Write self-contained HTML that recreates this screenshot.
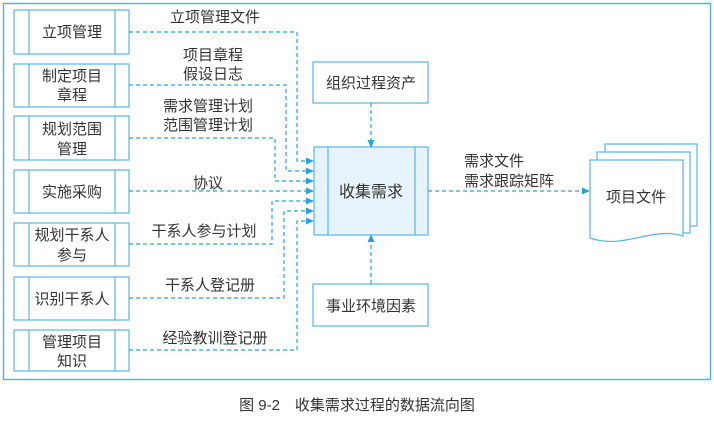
<!DOCTYPE html>
<html><head><meta charset="utf-8"><style>
html,body{margin:0;padding:0;background:#fff;}
svg text{font-family:"Liberation Sans","Noto Sans CJK SC",sans-serif;fill:#333;}
</style></head><body>
<svg width="714" height="422" viewBox="0 0 714 422" xmlns="http://www.w3.org/2000/svg">
<defs>
<marker id="ah" markerWidth="8" markerHeight="8" refX="7" refY="4" orient="auto" markerUnits="userSpaceOnUse">
<path d="M0,0.5 L8,4 L0,7.5 Z" fill="#2aa3d8"/></marker>
</defs>
<rect x="3.5" y="3.5" width="707" height="376" fill="none" stroke="#5ab6e0" stroke-width="1.5"/>
<g stroke="#5ab6e0" stroke-width="1.2" fill="none">
<rect x="14" y="10" width="115" height="44"/><line x1="29" y1="10" x2="29" y2="54"/><line x1="115" y1="10" x2="115" y2="54"/>
<rect x="14" y="64" width="115" height="43"/><line x1="29" y1="64" x2="29" y2="107"/><line x1="115" y1="64" x2="115" y2="107"/>
<rect x="14" y="116" width="115" height="44"/><line x1="29" y1="116" x2="29" y2="160"/><line x1="115" y1="116" x2="115" y2="160"/>
<rect x="14" y="170" width="115" height="43"/><line x1="29" y1="170" x2="29" y2="213"/><line x1="115" y1="170" x2="115" y2="213"/>
<rect x="14" y="223" width="115" height="43"/><line x1="29" y1="223" x2="29" y2="266"/><line x1="115" y1="223" x2="115" y2="266"/>
<rect x="14" y="277" width="115" height="43"/><line x1="29" y1="277" x2="29" y2="320"/><line x1="115" y1="277" x2="115" y2="320"/>
<rect x="14" y="330" width="115" height="41"/><line x1="29" y1="330" x2="29" y2="371"/><line x1="115" y1="330" x2="115" y2="371"/>
<rect x="313" y="62" width="115" height="41"/>
<rect x="313" y="284" width="115" height="42"/>
<rect x="314" y="147" width="114" height="88" fill="#e6f3fa"/><line x1="328" y1="147" x2="328" y2="235"/><line x1="415" y1="147" x2="415" y2="235"/>
<path d="M605,144 H697 V226 H683 V144 Z" fill="#fff" stroke="none"/>
<path d="M605,152 V144 H697 V226 H690"/>
<path d="M597,160 V152 H690 V233 H683"/>
<path d="M590,160 H683 V236 C650,226 625,250 590,238 Z" fill="#fff"/>
</g>
<g stroke="#2aa3d8" stroke-width="1.2" fill="none" stroke-dasharray="4,3" marker-end="url(#ah)">
<path d="M129,32 H297 V161 H313"/>
<path d="M129,85 H286 V171 H313"/>
<path d="M129,138 H275 V181 H313"/>
<path d="M129,191 H313"/>
<path d="M129,244 H272 V201 H313"/>
<path d="M129,298 H284 V211 H313"/>
<path d="M129,350 H297 V221 H313"/>
<path d="M371,103 V147"/>
<path d="M371,284 V235"/>
<path d="M428,191 H589"/>
</g>
<g font-size="15" text-anchor="middle">
<text x="72" y="37">立项管理</text>
<text x="72" y="81">制定项目</text><text x="72" y="100">章程</text>
<text x="72" y="134">规划范围</text><text x="72" y="154">管理</text>
<text x="72" y="197">实施采购</text>
<text x="72" y="240">规划干系人</text><text x="72" y="260">参与</text>
<text x="72" y="304">识别干系人</text>
<text x="72" y="347">管理项目</text><text x="72" y="366">知识</text>
<text x="215" y="22">立项管理文件</text>
<text x="213" y="60">项目章程</text><text x="213" y="79">假设日志</text>
<text x="208" y="111">需求管理计划</text><text x="208" y="130">范围管理计划</text>
<text x="208" y="188">协议</text>
<text x="204" y="236">干系人参与计划</text>
<text x="210" y="290">干系人登记册</text>
<text x="215" y="343">经验教训登记册</text>
<text x="371" y="88">组织过程资产</text>
<text x="371" y="197" font-size="16">收集需求</text>
<text x="371" y="311">事业环境因素</text>
<text x="636" y="202">项目文件</text>
<text x="357" y="410">图 9-2　收集需求过程的数据流向图</text>
</g>
<text x="464" y="166" font-size="15">需求文件</text>
<text x="464" y="186" font-size="15">需求跟踪矩阵</text>
</svg>
</body></html>
